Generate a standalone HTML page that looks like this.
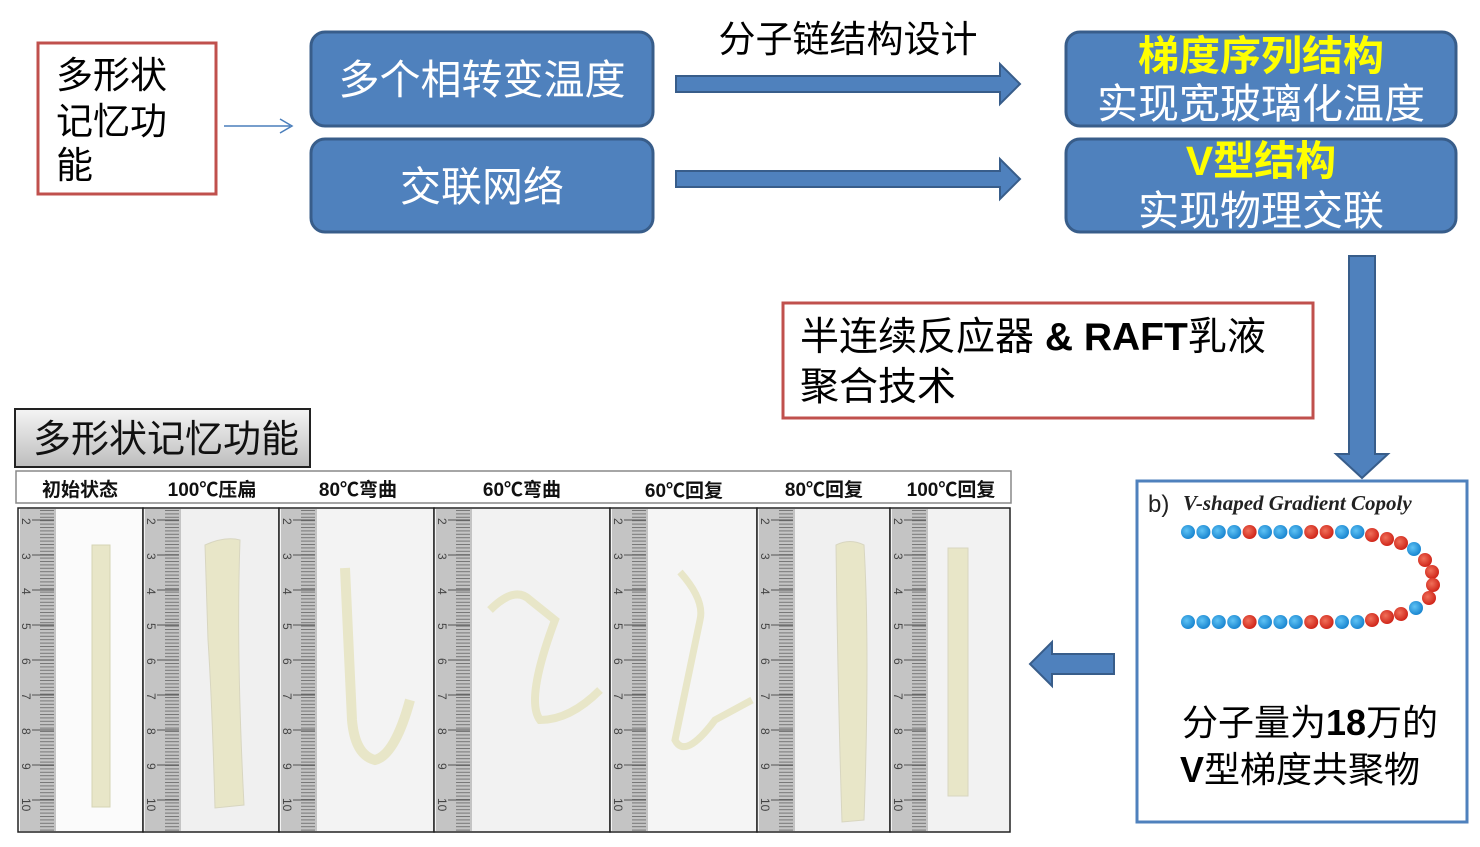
<!DOCTYPE html>
<html><head><meta charset="utf-8"><style>
body{margin:0;background:#fff;width:1480px;height:842px;overflow:hidden;font-family:"Liberation Sans","Noto Sans CJK SC",sans-serif}
</style></head><body>
<svg id="s" width="1480" height="842" xmlns="http://www.w3.org/2000/svg" font-family="Liberation Sans, Noto Sans CJK SC, sans-serif">
<defs>
<linearGradient id="hg" x1="0" y1="0" x2="0" y2="1"><stop offset="0" stop-color="#f4f4f4"/><stop offset="1" stop-color="#bdbdbd"/></linearGradient>
<radialGradient id="bb" cx="0.4" cy="0.4" r="0.6"><stop offset="0" stop-color="#5fc3f5"/><stop offset="1" stop-color="#1a86d0"/></radialGradient>
<radialGradient id="rb" cx="0.4" cy="0.4" r="0.6"><stop offset="0" stop-color="#f0705a"/><stop offset="1" stop-color="#d0261a"/></radialGradient>
<pattern id="tk" width="3.4" height="4" patternUnits="userSpaceOnUse" patternTransform="rotate(90)"><rect width="1" height="4" fill="#777"/></pattern>
</defs>
<rect x="38" y="43" width="178" height="151" fill="#fff" stroke="#c0504d" stroke-width="3"/>
<text font-size="37" fill="#000"><tspan x="56" y="88">多形状</tspan><tspan x="56" y="134">记忆功</tspan><tspan x="56" y="178">能</tspan></text>
<line x1="224" y1="126" x2="290" y2="126" stroke="#4a7ebb" stroke-width="1.5"/>
<path d="M280 119 L292 126 L280 133" fill="none" stroke="#4a7ebb" stroke-width="1.5"/>
<g fill="#4f81bd" stroke="#385d8a" stroke-width="3">
<rect x="311" y="32" width="342" height="94" rx="14"/>
<rect x="311" y="139" width="342" height="93" rx="14"/>
<rect x="1066" y="32" width="390" height="94" rx="14"/>
<rect x="1066" y="139" width="390" height="93" rx="14"/>
</g>
<g fill="#fff" font-size="41" text-anchor="middle">
<text x="482" y="94">多个相转变温度</text>
<text x="482" y="201">交联网络</text>
<text x="1261" y="118">实现宽玻璃化温度</text>
<text x="1261" y="225">实现物理交联</text>
</g>
<g fill="#ffff00" font-size="41" text-anchor="middle" font-weight="bold">
<text x="1261" y="70">梯度序列结构</text>
<text x="1261" y="175">V型结构</text>
</g>
<text x="848" y="52" font-size="37" text-anchor="middle">分子链结构设计</text>
<g fill="#4f81bd" stroke="#385d8a" stroke-width="2">
<path d="M676 76 L1000 76 L1000 64 L1020 84 L1000 104 L1000 92 L676 92Z"/>
<path d="M676 171 L1000 171 L1000 159 L1020 179 L1000 199 L1000 187 L676 187Z"/>
<path d="M1349 256 L1375 256 L1375 454 L1388 454 L1362 478 L1336 454 L1349 454Z"/>
<path d="M1114 654 L1052 654 L1052 642 L1030 664 L1052 686 L1052 674 L1114 674Z"/>
</g>
<rect x="783" y="303" width="530" height="115" fill="#fff" stroke="#c0504d" stroke-width="3"/>
<text font-size="39" fill="#000"><tspan x="800" y="350">半连续反应器 <tspan font-weight="bold">&amp; RAFT</tspan>乳液</tspan><tspan x="800" y="400">聚合技术</tspan></text>
<rect x="1137" y="481" width="330" height="341" fill="#fff" stroke="#4f81bd" stroke-width="3"/>
<text x="1148" y="512" font-size="24" fill="#222">b)</text>
<text x="1183" y="510" font-size="21" font-family="Liberation Serif, serif" font-style="italic" font-weight="bold" fill="#222">V-shaped Gradient Copoly</text>
<g id="beads"></g>
<text x="1310" y="735" font-size="36" text-anchor="middle">分子量为<tspan font-weight="bold">18</tspan>万的</text>
<text x="1300" y="782" font-size="36" text-anchor="middle"><tspan font-weight="bold">V</tspan>型梯度共聚物</text>
<rect x="15" y="409" width="295" height="58" fill="url(#hg)" stroke="#222" stroke-width="2"/>
<text x="33" y="452" font-size="38" fill="#111">多形状记忆功能</text>
<rect x="16" y="471" width="995" height="32" fill="#fff" stroke="#888" stroke-width="1.5"/>
<g font-size="19" font-weight="bold" text-anchor="middle" fill="#111">
<text x="80" y="496">初始状态</text><text x="212" y="496">100℃压扁</text><text x="358" y="496">80℃弯曲</text><text x="522" y="496">60℃弯曲</text><text x="684" y="497">60℃回复</text><text x="824" y="496">80℃回复</text><text x="951" y="496">100℃回复</text>
</g>
<g id="panels"></g>
</svg>
<script>
var ns="http://www.w3.org/2000/svg";
function el(p,t,a){var e=document.createElementNS(ns,t);for(var k in a)e.setAttribute(k,a[k]);p.appendChild(e);return e;}
var P=document.getElementById('panels');
var xs=[18,143,279,434,610,757,890,1010];
var bgs=["#fbfbfb","#f0f0f0","#f3f3f3","#f2f2f2","#f5f5f5","#f0f0f0","#f2f2f2"];
for(var i=0;i<7;i++){var x=xs[i],w=xs[i+1]-x;
el(P,'rect',{x:x,y:508,width:w,height:324,fill:bgs[i],stroke:'#222','stroke-width':1.5});
el(P,'rect',{x:x+2,y:509,width:36,height:322,fill:'#c4c4c4'});
el(P,'rect',{x:x+22,y:509,width:14,height:322,fill:'url(#tk)'});
for(var y=520;y<830;y+=35){el(P,'line',{x1:x+14,y1:y,x2:x+36,y2:y,stroke:'#555','stroke-width':1});
var t=el(P,'text',{x:x+6,y:y+4,'font-size':12,fill:'#444',transform:'rotate(90 '+(x+8)+' '+y+')'});t.textContent=Math.round((y-520)/35+2);}
}
var S="#e8e6c8";
el(P,'rect',{x:92,y:545,width:18,height:262,fill:S,stroke:'#d6d4b5'});
el(P,'path',{d:'M205 545 Q225 536 240 540 Q236 650 244 805 L215 808 Q212 700 208 640Z',fill:S,stroke:'#d8d6c0'});
el(P,'path',{d:'M345 568 L352 720 Q355 755 375 760 Q395 755 410 700',fill:'none',stroke:S,'stroke-width':10});
el(P,'path',{d:'M490 610 Q515 585 530 600 L555 620 Q525 700 540 720 Q570 720 600 690',fill:'none',stroke:S,'stroke-width':8});
el(P,'path',{d:'M680 572 Q705 600 700 620 L675 740 Q685 760 715 720 L752 700',fill:'none',stroke:S,'stroke-width':7});
el(P,'path',{d:'M836 545 Q850 538 864 545 Q870 650 864 820 L842 822 Q838 700 836 545Z',fill:S,stroke:'#d8d6c0'});
el(P,'rect',{x:948,y:548,width:20,height:248,fill:S,stroke:'#d8d6c0'});
var B=document.getElementById('beads');
var rowA="BBBBRBBBRRBB".split(""),rowB="BBBBRBBBRRBB".split("");
function bead(x,y,c){el(B,'circle',{cx:x,cy:y,r:7,fill:c=='B'?'url(#bb)':'url(#rb)'});}
for(var k=0;k<12;k++){bead(1188+k*15.4,532,rowA[k]);bead(1188+k*15.4,622,rowB[k]);}
[[1372,535,'R'],[1387,539,'R'],[1401,543,'R'],[1414,549,'B'],[1425,560,'R'],[1432,572,'R'],[1433,585,'R'],[1429,598,'R'],[1416,608,'B']].forEach(function(b){bead(b[0],b[1],b[2]);});
[[1372,620,'R'],[1387,617,'R'],[1401,614,'R']].forEach(function(b){bead(b[0],b[1],b[2]);});
</script>
</body></html>
